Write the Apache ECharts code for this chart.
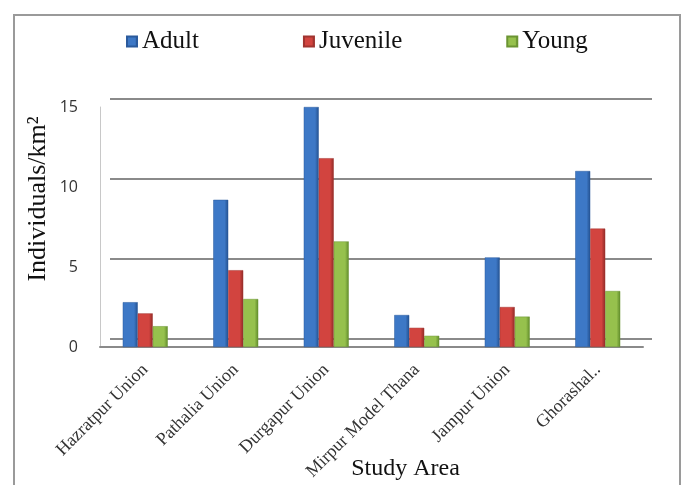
<!DOCTYPE html>
<html>
<head>
<meta charset="UTF-8">
<title>Study Area density</title>
<script type="text/javascript" src="https://cdn.jsdelivr.net/npm/echarts@6/dist/echarts.min.js"></script>
<style>
html,body{margin:0;padding:0;background:#fff;}
</style>
</head>
<body>
<div id="box" style="width:694px;height:485px;"></div>

<script type="text/javascript">
// study areas
var areas=['Hazratpur Union','Pathalia Union','Durgapur Union','Mirpur Model Thana','Jampur Union','Ghorashal..'];
// individuals / km2
var adult=[2.8,9.2,15.0,2.0,5.6,11.0];
var juvenile=[2.1,4.8,11.8,1.2,2.5,7.4];
var young=[1.3,3.0,6.6,0.7,1.9,3.5];
var yTicks=[0,5,10,15];

function shade(light,dark){
  return new echarts.graphic.LinearGradient(0,0,1,0,[
    {offset:0,color:light},{offset:0.75,color:light},{offset:1,color:dark}
  ]);
}

var mychart=echarts.init(document.getElementById('box'));

mychart.setOption({
    animation:false,
    graphic:[{
      type:'rect',
      shape:{x:14,y:15,width:666,height:480},
      style:{fill:'none',stroke:'#9a9a9a',lineWidth:2}
    }],
    legend:{
      top:24,
      left:121,
      itemGap:104,
      itemWidth:10,
      itemHeight:10,
      icon:'rect',
      textStyle:{fontFamily:'Liberation Serif',fontSize:25,color:'#111'},
      data:['Adult','Juvenile','Young']
    },
    grid:[
      // front: bars, labels
      {left:100,right:51,top:107,bottom:138,outerBoundsMode:'none',containLabel:false},
      // back wall: gridlines
      {left:110,right:42,top:99,bottom:146,outerBoundsMode:'none',containLabel:false}
    ],
    xAxis:[{
      type:'category',
      gridIndex:0,
      data:areas,
      axisLine:{lineStyle:{color:'#8a8a8a',width:2}},
      axisTick:{show:false},
      axisLabel:{
        rotate:45,
        interval:0,
        margin:20,
        fontFamily:'Liberation Serif',
        fontSize:18,
        color:'#333'
      },
      name:'Study Area',
      nameLocation:'middle',
      nameGap:110,
      nameMoveOverlap:false,
      nameTextStyle:{fontFamily:'Liberation Serif',fontSize:24,color:'#111',padding:[0,0,0,68]}
    },{
      type:'category',
      gridIndex:1,
      data:areas,
      show:false
    }],
    yAxis:[{
      type:'value',
      gridIndex:0,
      min:0,
      max:15,
      interval:5,
      axisLine:{show:true,lineStyle:{color:'#c8c8c8',width:1}},
      axisTick:{show:false},
      splitLine:{show:false},
      axisLabel:{
        margin:22,
        fontFamily:'Open Sans',
        fontSize:16,
        color:'#333',
        formatter:function(v){return yTicks.indexOf(v)>=0?String(v):'';}
      },
      name:'Individuals/km²',
      nameLocation:'middle',
      nameGap:49,
      nameMoveOverlap:false,
      nameTextStyle:{fontFamily:'Liberation Serif',fontSize:26,color:'#111',padding:[0,0,0,56]}
    },{
      type:'value',
      gridIndex:1,
      min:0,
      max:15,
      interval:5,
      axisLine:{show:false},
      axisTick:{show:false},
      axisLabel:{show:false},
      splitLine:{lineStyle:{color:'#8a8a8a',width:2}}
    }],
    series:[{
      name:'Adult',
      type:'bar',
      barWidth:15,
      barGap:'0%',
      itemStyle:{color:shade('#3d78c6','#23508e'),borderColor:'#2b5a9c',borderWidth:0.5},
      data:adult
    },{
      name:'Juvenile',
      type:'bar',
      barWidth:15,
      barGap:'0%',
      itemStyle:{color:shade('#d2443f','#8f2a27'),borderColor:'#a03430',borderWidth:0.5},
      data:juvenile
    },{
      name:'Young',
      type:'bar',
      barWidth:15,
      barGap:'0%',
      itemStyle:{color:shade('#96c14d','#5f8a2a'),borderColor:'#6b9432',borderWidth:0.5},
      data:young
    }]
});
</script>
</body>
</html>
